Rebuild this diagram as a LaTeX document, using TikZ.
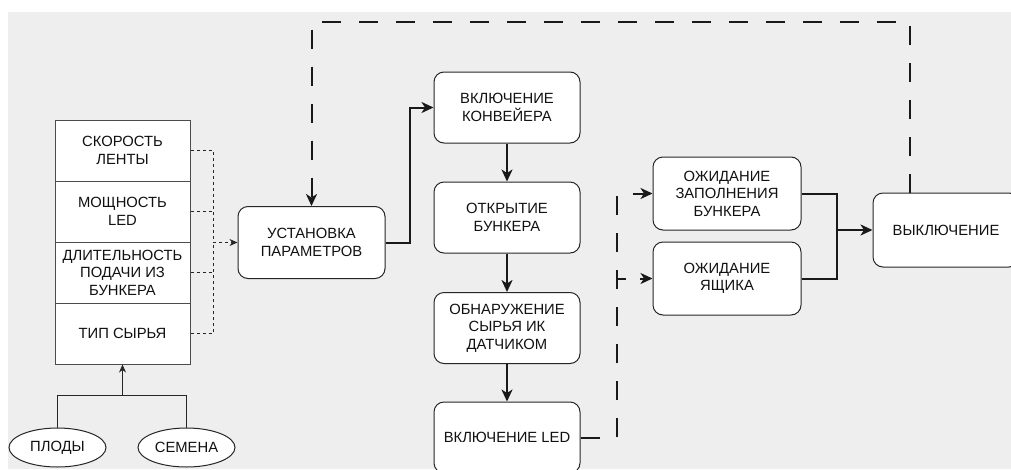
\documentclass[tikz,border=0pt]{standalone}
\usepackage{fontspec}
\setmainfont{Liberation Sans}
\usetikzlibrary{arrows.meta,shapes.geometric,calc}
\definecolor{bggray}{HTML}{EEEEEE}
\definecolor{txt}{HTML}{111111}
\tikzset{
  box/.style={draw=black!85,fill=white,line width=1pt,rounded corners=10pt,align=center,
    text=txt,font=\fontsize{14.8}{17.5}\selectfont,inner sep=0pt,minimum width=147pt,minimum height=72pt},
  cell/.style={draw=black!70,fill=white,line width=1pt,align=center,text=txt,
    font=\fontsize{14.8}{17.5}\selectfont,inner sep=0pt,minimum width=135pt,minimum height=61pt},
  oval/.style={ellipse,draw=black!85,fill=white,line width=1pt,text=txt,
    font=\fontsize{14.8}{17.5}\selectfont,inner sep=0pt,minimum width=97pt,minimum height=39pt},
  thinln/.style={draw=black!85,line width=1pt},
  thickln/.style={draw=black!90,line width=2pt},
  dotln/.style={draw=black!85,line width=1pt,dash pattern=on 3pt off 3pt},
  bigdash/.style={draw=black!90,line width=2pt,dash pattern=on 19pt off 18pt},
  tipbig/.style={-{Stealth[length=12pt,width=11pt,inset=3.5pt]}},
  tipsmall/.style={-{Stealth[length=8pt,width=7pt,inset=2.5pt]}},
}
\begin{document}
\begin{tikzpicture}[x=1pt,y=-1pt]
\useasboundingbox (0,0) rectangle (1011,469);
\clip (0,0) rectangle (1011,469);
\fill[bggray] (8,12) rectangle (1011,469);

% left stacked box
\node[cell] (s1) at (122.5,150.5) {СКОРОСТЬ\\ЛЕНТЫ};
\node[cell] (s2) at (122.5,211.5) {МОЩНОСТЬ\\LED};
\node[cell] (s3) at (122.5,272.5) {ДЛИТЕЛЬНОСТЬ\\ПОДАЧИ ИЗ\\БУНКЕРА};
\node[cell] (s4) at (122.5,333.5) {ТИП СЫРЬЯ};

\node[oval] (pl) at (57.5,447.5) {ПЛОДЫ};
\node[oval] (se) at (186.5,447.5) {СЕМЕНА};

\node[box] (ust) at (311.5,242.5) {УСТАНОВКА\\ПАРАМЕТРОВ};

\node[box,minimum width=146pt,minimum height=71pt] (m1) at (507,107.5) {ВКЛЮЧЕНИЕ\\КОНВЕЙЕРА};
\node[box,minimum width=146pt,minimum height=71pt] (m2) at (507,217.5) {ОТКРЫТИЕ\\БУНКЕРА};
\node[box,minimum width=146pt,minimum height=71pt] (m3) at (507,328) {ОБНАРУЖЕНИЕ\\СЫРЬЯ ИК\\ДАТЧИКОМ};
\node[box,minimum width=146pt,minimum height=71pt] (m4) at (507,437.5) {ВКЛЮЧЕНИЕ LED};

\node[box,minimum width=148pt,minimum height=73pt] (wa) at (727,193.5) {ОЖИДАНИЕ\\ЗАПОЛНЕНИЯ\\БУНКЕРА};
\node[box,minimum width=148pt,minimum height=73pt] (wb) at (727,278.5) {ОЖИДАНИЕ\\ЯЩИКА};

\node[box,minimum width=146pt,minimum height=74pt] (off) at (946,230) {ВЫКЛЮЧЕНИЕ};

% ellipses to stacked box
\coordinate (j) at (122.5,395);
\draw[thinln] (pl.north) |- (j);
\draw[thinln] (se.north) |- (j);
\draw[thinln,tipsmall] (j) -- (s4.south);

% dotted parameter lines
\coordinate (dj) at (213,242.5);
\draw[dotln] (s1.east) -| (dj);
\draw[dotln] (s4.east) -| (dj);
\draw[dotln] (s2.east) -- (s2.east -| dj);
\draw[dotln] (s3.east) -- (s3.east -| dj);
\draw[dotln,tipsmall] (dj) -- (ust.west);

% main flow
\draw[thickln,tipbig] (ust.east) -- ++(24,0) |- (m1.west);
\draw[thickln,tipbig] (m1.south) -- (m2.north);
\draw[thickln,tipbig] (m2.south) -- (m3.north);
\draw[thickln,tipbig] (m3.south) -- (m4.north);

% LED to waiting boxes
\coordinate (da) at (617,193.5);
\coordinate (db) at (617,278.5);
\draw[bigdash] (m4.east) -| (da) -- ($(wa.west)+(-12,0)$);
\draw[bigdash] (m4.east) -| (db) -- ($(wb.west)+(-12,0)$);
\draw[thickln,tipbig] ($(wa.west)+(-12.5,0)$) -- (wa.west);
\draw[thickln,tipbig] ($(wb.west)+(-12.5,0)$) -- (wb.west);

% waiting boxes to off
\coordinate (jm) at (837,230);
\draw[thickln] (wa.east) -| (jm);
\draw[thickln] (wb.east) -| (jm);
\draw[thickln,tipbig] (jm) -- (off.west);

% feedback
\coordinate (ot) at (910,193);
\coordinate (tc) at (910,22);
\draw[bigdash,tipbig] (ot) -- (tc) -| (ust.north);
\end{tikzpicture}
\end{document}
